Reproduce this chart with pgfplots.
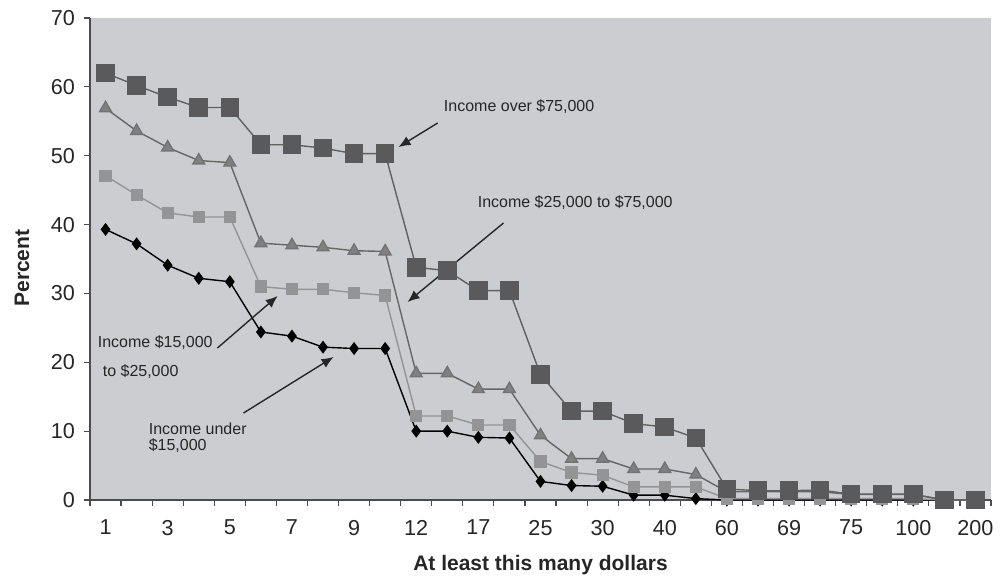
\documentclass[border=0pt]{standalone}
\usepackage{fontspec}
\setmainfont{Liberation Sans}
\usepackage{pgfplots}
\usepackage{pgfplotstable}
\pgfplotsset{compat=1.18}
\usetikzlibrary{arrows.meta}
\definecolor{bg}{RGB}{204,205,208}
\definecolor{sqdark}{RGB}{90,90,92}
\definecolor{tri}{RGB}{128,128,130}
\definecolor{sqlight}{RGB}{148,148,150}
\pgfplotstableread{
i  over  mid  low  under
0  62.0  56.9  47.1  39.3
1  60.2  53.6  44.3  37.2
2  58.5  51.2  41.7  34.1
3  57.0  49.3  41.1  32.2
4  57.0  49.0  41.1  31.7
5  51.6  37.3  31.0  24.4
6  51.6  37.0  30.6  23.8
7  51.1  36.7  30.6  22.2
8  50.3  36.2  30.1  22.0
9  50.3  36.1  29.7  22.0
10 33.8  18.4  12.2  10.0
11 33.3  18.4  12.2  10.0
12 30.4  16.1  10.9  9.1
13 30.4  16.1  10.9  9.0
14 18.2  9.4   5.6   2.7
15 12.9  6.0   4.0   2.1
16 12.9  6.0   3.6   2.0
17 11.1  4.5   1.9   0.7
18 10.6  4.5   1.9   0.7
19 9.0   3.7   1.9   0.2
20 1.6   1.2   0.2   0.0
21 1.35  1.2   0.2   0.0
22 1.35  1.2   0.2   0.0
23 1.45  1.2   0.2   0.0
24 0.85  0.8   0.2   0.0
25 0.85  0.8   0.2   0.0
26 0.85  0.8   0.2   0.0
27 0.0   0.0   0.0   0.0
28 0.0   0.0   0.0   0.0
}\data
\begin{document}
\begin{tikzpicture}
\path[use as bounding box] (-45pt,-40pt) rectangle (455.5pt,250pt);
\begin{axis}[
  at={(0pt,0pt)}, anchor=south west,
  width=450.5pt, height=241pt, scale only axis,
  xmin=-0.5, xmax=28.5, ymin=0, ymax=70,
  clip=false,
  axis background/.style={fill=bg},
  axis x line=bottom, axis y line=left,
  axis line style={-, draw=black!70, line width=0.8pt},
  ytick={0,10,...,70},
  xtick={0,2,...,28},
  xticklabels={1,3,5,7,9,12,17,25,30,40,60,69,75,100,200},
  minor xtick={-0.5,0.5,...,28.5},
  tick align=outside,
  major tick length=3pt, minor tick length=3pt,
  tick style={draw=black!70, line width=0.6pt},
  major x tick style={draw=none},
  /pgf/number format/assume math mode=true,
  ticklabel style={font=\fontsize{10.8}{12}\selectfont, text=black!85},
  xticklabel style={yshift=-3.5pt},
  yticklabel style={xshift=-1pt},
  xlabel={At least this many dollars},
  ylabel={Percent},
  label style={font=\bfseries\fontsize{10.5}{12}\selectfont, text=black!85},
  xlabel style={at={(axis description cs:0.5,-0.135)}, anchor=center},
  ylabel style={at={(axis description cs:-0.0755,0.481)}, anchor=center},
]
\addplot[black, line width=0.7pt, mark=diamond*, mark size=2.7pt,
  mark options={fill=black, draw=black}] table[x=i, y=under] {\data};
\addplot[color=sqlight, line width=0.7pt, mark=square*, mark size=2.7pt,
  mark options={fill=sqlight, draw=sqlight}] table[x=i, y=low] {\data};
\addplot[color=black!60, line width=0.7pt, mark=triangle*, mark size=3.4pt,
  mark options={fill=tri, draw=black!55}] table[x=i, y=mid] {\data};
\addplot[color=black!62, line width=0.7pt, mark=square*, mark size=4.3pt,
  mark options={fill=sqdark, draw=sqdark}] table[x=i, y=over] {\data};

\begin{scope}[every node/.style={font=\fontsize{8}{9.6}\selectfont, text=black!85, inner sep=0pt, anchor=west}]
\node at (axis cs:10.88,57.07) {Income over \$75,000};
\node at (axis cs:11.97,43.13) {Income \$25,000 to \$75,000};
\node at (axis cs:-0.26,22.8) {Income \$15,000};
\node at (axis cs:-0.10,18.59) {to \$25,000};
\node at (axis cs:1.38,10.31) {Income under};
\node at (axis cs:1.38,7.84) {\$15,000};
\end{scope}
\begin{scope}[-{Latex[length=6pt,width=5pt]}, line width=0.7pt, draw=black!85]
\draw (axis cs:10.69,54.75) -- (axis cs:9.43,51.26);
\draw (axis cs:12.81,40.23) -- (axis cs:9.72,28.75);
\draw (axis cs:3.60,22.07) -- (axis cs:5.54,29.63);
\draw (axis cs:4.44,12.63) -- (axis cs:7.34,20.77);
\end{scope}
\end{axis}
\end{tikzpicture}
\end{document}
